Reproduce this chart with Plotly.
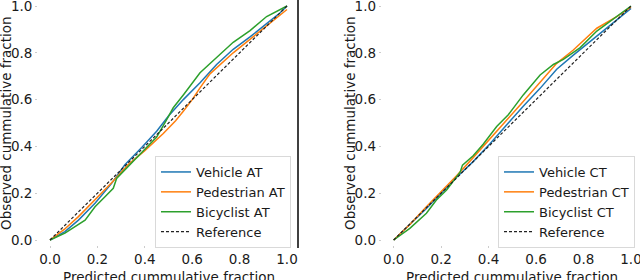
import plotly.graph_objects as go

# ---------------- data ----------------
tick_vals = [0.0, 0.2, 0.4, 0.6, 0.8, 1.0]
tick_text = ["0.0", "0.2", "0.4", "0.6", "0.8", "1.0"]

# Left panel (AT)
veh_at_x = [0, 0.063, 0.12, 0.19, 0.26, 0.316, 0.387, 0.45, 0.5, 0.5625, 0.633, 0.703, 0.773, 0.844, 0.914, 0.97, 1.0]
veh_at_y = [0, 0.036, 0.085, 0.157, 0.242, 0.322, 0.395, 0.465, 0.53, 0.6, 0.672, 0.75, 0.815, 0.868, 0.925, 0.97, 1.0]

ped_at_x = [0, 0.06, 0.12, 0.19, 0.26, 0.33, 0.40, 0.478, 0.53, 0.5625, 0.6, 0.633, 0.675, 0.773, 0.844, 0.914, 0.97, 1.0]
ped_at_y = [0, 0.045, 0.10, 0.171, 0.245, 0.322, 0.382, 0.455, 0.51, 0.55, 0.6, 0.65, 0.71, 0.80, 0.858, 0.915, 0.962, 0.985]

bic_at_x = [0, 0.063, 0.148, 0.19, 0.232, 0.267, 0.281, 0.316, 0.40, 0.45, 0.49, 0.52, 0.5625, 0.633, 0.703, 0.773, 0.844, 0.914, 1.0]
bic_at_y = [0, 0.029, 0.085, 0.142, 0.185, 0.221, 0.263, 0.299, 0.385, 0.44, 0.51, 0.565, 0.62, 0.715, 0.78, 0.845, 0.895, 0.955, 1.0]

# Right panel (CT)
veh_ct_x = [0, 0.068, 0.138, 0.2, 0.265, 0.335, 0.405, 0.483, 0.546, 0.617, 0.687, 0.757, 0.827, 0.898, 0.96, 1.0]
veh_ct_y = [0, 0.066, 0.135, 0.2, 0.268, 0.335, 0.41, 0.5, 0.572, 0.648, 0.73, 0.79, 0.848, 0.905, 0.96, 0.99]

ped_ct_x = [0, 0.068, 0.138, 0.223, 0.265, 0.335, 0.405, 0.483, 0.546, 0.617, 0.687, 0.757, 0.856, 0.94, 1.0]
ped_ct_y = [0, 0.066, 0.142, 0.228, 0.275, 0.352, 0.43, 0.52, 0.592, 0.675, 0.755, 0.812, 0.905, 0.955, 0.995]

bic_ct_x = [0, 0.068, 0.138, 0.18, 0.223, 0.265, 0.28, 0.29, 0.335, 0.378, 0.434, 0.483, 0.546, 0.617, 0.673, 0.715, 0.786, 0.856, 0.927, 1.0]
bic_ct_y = [0, 0.05, 0.114, 0.171, 0.214, 0.268, 0.29, 0.32, 0.36, 0.41, 0.485, 0.535, 0.62, 0.705, 0.75, 0.772, 0.822, 0.893, 0.945, 1.0]

ref_x = [0, 1]
ref_y = [0, 1]

# ---------------- styling ----------------
BLUE, ORANGE, GREEN = "#1f77b4", "#ff7f0e", "#2ca02c"
FONT = "DejaVu Sans"
FS = 13.5
LFS = 13
TXT = "#1a1a1a"

fig = go.Figure()

def add_panel(xa, ya, legend, series, label):
    for name, xs, ys, col in series:
        fig.add_trace(go.Scatter(x=xs, y=ys, mode="lines", name=f"{name} {label}",
                                 line=dict(color=col, width=1.5),
                                 xaxis=xa, yaxis=ya, legend=legend))
    fig.add_trace(go.Scatter(x=ref_x, y=ref_y, mode="lines", name="Reference",
                             line=dict(color="#222222", width=1.2, dash="3px,2px"),
                             xaxis=xa, yaxis=ya, legend=legend))

add_panel("x", "y", "legend",
          [("Vehicle", veh_at_x, veh_at_y, BLUE),
           ("Pedestrian", ped_at_x, ped_at_y, ORANGE),
           ("Bicyclist", bic_at_x, bic_at_y, GREEN)], "AT")
add_panel("x2", "y2", "legend2",
          [("Vehicle", veh_ct_x, veh_ct_y, BLUE),
           ("Pedestrian", ped_ct_x, ped_ct_y, ORANGE),
           ("Bicyclist", bic_ct_x, bic_ct_y, GREEN)], "CT")

W, H = 640, 280
axis_common = dict(showgrid=False, zeroline=False, showline=False,
                   ticks="outside", ticklen=2, tickcolor="#cccccc",
                   tickvals=tick_vals, ticktext=tick_text,
                   automargin=False, ticklabeloverflow="allow",
                   tickfont=dict(family=FONT, size=FS, color=TXT))

Y0PX, Y1PX = 240.0, 6.0          # pixel rows of y=0 and y=1
PPU = Y0PX - Y1PX                # pixels per unit
YBOT = 244.7                     # bottom of plot area (pixels)
YDOM = [1 - YBOT / H, 1]
YR = [-(YBOT - Y0PX) / PPU, 1 + Y1PX / PPU]

fig.update_layout(
    width=W, height=H,
    margin=dict(l=0, r=0, t=0, b=0),
    paper_bgcolor="white", plot_bgcolor="white",
    font=dict(family=FONT, size=FS, color=TXT),
    xaxis=dict(domain=[38.15 / W, 298.85 / W], range=[-0.05, 1.05], anchor="y", **axis_common),
    yaxis=dict(domain=YDOM, range=YR, anchor="x", **axis_common),
    xaxis2=dict(domain=[381.8 / W, 1.0], range=[-0.05, 1 + 9 / 237.3], anchor="y2", **axis_common),
    yaxis2=dict(domain=YDOM, range=YR, anchor="x2", **axis_common),
    legend=dict(x=291 / W, y=1 - 248 / H, xanchor="right", yanchor="bottom",
                bgcolor="white", bordercolor="#d9d9d9", borderwidth=1,
                font=dict(family=FONT, size=LFS, color=TXT), itemwidth=30),
    legend2=dict(x=635 / W, y=1 - 248 / H, xanchor="right", yanchor="bottom",
                 bgcolor="white", bordercolor="#d9d9d9", borderwidth=1,
                 font=dict(family=FONT, size=LFS, color=TXT), itemwidth=30),
    showlegend=True,
)

# axis titles
for cx in [168.5 / W, 512.3 / W]:
    fig.add_annotation(text="Predicted cummulative fraction", xref="paper", yref="paper",
                       x=cx, y=1 - 277 / H, xanchor="center", yanchor="middle",
                       showarrow=False, font=dict(family=FONT, size=FS, color=TXT))
for cx in [6 / W, 350 / W]:
    fig.add_annotation(text="Observed cummulative fraction", xref="paper", yref="paper",
                       x=cx, y=1 - 123 / H, xanchor="center", yanchor="middle", textangle=-90,
                       showarrow=False, font=dict(family=FONT, size=FS, color=TXT))

# right spine of left panel
fig.add_shape(type="line", xref="paper", yref="paper",
              x0=298 / W, x1=298 / W, y0=1 - 248 / H, y1=1,
              line=dict(color="black", width=1.5))

fig.write_html("out.html", config={"displayModeBar": False},
               post_script="document.body.style.margin='0';document.body.style.padding='0';")
